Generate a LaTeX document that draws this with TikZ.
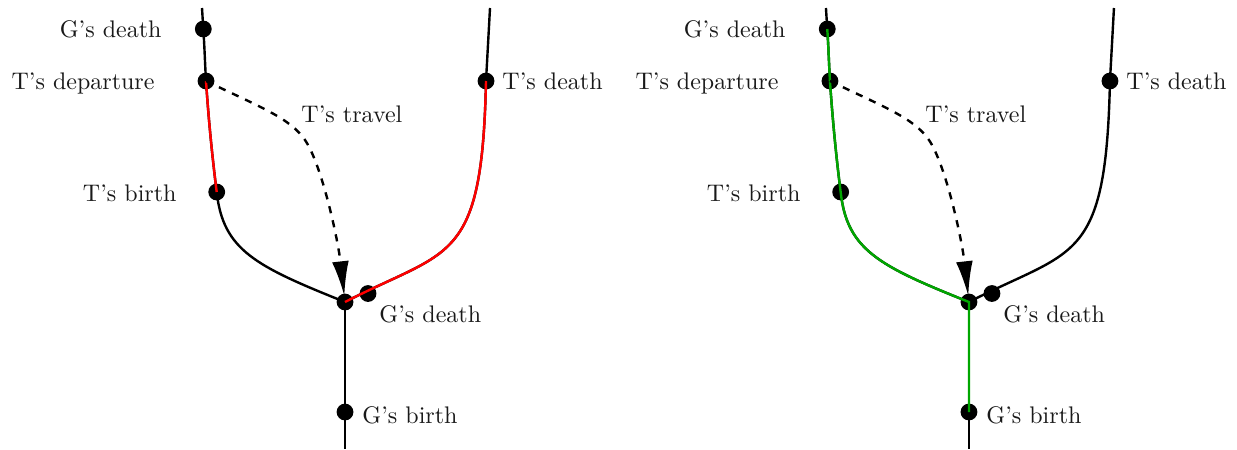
\documentclass[tikz,border=0pt]{standalone}
\usetikzlibrary{arrows.meta}
\definecolor{pathgreen}{RGB}{0,166,0}
\tikzset{
  worldline/.style={line width=1pt, black},
  dot/.style={circle, fill=black, inner sep=0pt, minimum size=7pt},
  lab/.style={inner sep=0pt, font=\normalsize, text=black!90},
  travel/.style={dashed, line width=1pt, shorten >=2.5pt, -{Latex[length=14.5pt,width=7pt]}},
  redpath/.style={red, line width=1pt},
  greenpath/.style={pathgreen, line width=1pt}
}
\newcommand\timelinepanel[1]{%
  \coordinate (topL#1) at (202,8);
  \coordinate (gdL#1) at (203.3,29);
  \coordinate (tdL#1) at (206,81);
  \coordinate (tbL#1) at (216.7,192);
  \coordinate (J#1) at (345,302);
  \coordinate (topR#1) at (490,8);
  \coordinate (tdR#1) at (486,81);
  \coordinate (gdR#1) at (368,293.5);
  \coordinate (gb#1) at (345,412);
  \coordinate (bot#1) at (345,449);
  % world lines
  \draw[worldline] (topL#1) -- (gdL#1) .. controls (204.5,46) and (205,64) .. (tdL#1)
     .. controls (208.5,118) and (212,155) .. (tbL#1)
     .. controls (223,250) and (255,266) .. (J#1);
  \draw[worldline] (topR#1) -- (tdR#1) .. controls (482,265) and (450,248) .. (J#1);
  \draw[worldline] (J#1) -- (gb#1) -- (bot#1);
  % dots
  \node[dot] (n-gdL#1) at (gdL#1) {};
  \node[dot] (n-tdL#1) at (tdL#1) {};
  \node[dot] (n-tbL#1) at (tbL#1) {};
  \node[dot] (n-J#1) at (J#1) {};
  \node[dot] (n-tdR#1) at (tdR#1) {};
  \node[dot] (n-gdR#1) at (gdR#1) {};
  \node[dot] (n-gb#1) at (gb#1) {};
  % labels
  \node[lab, anchor=base east] (l-gdL#1) at (162,37) {G's death};
  \node[lab, anchor=base east] (l-tdL#1) at (155,89) {T's departure};
  \node[lab, anchor=base east] (l-tbL#1) at (177,201) {T's birth};
  \node[lab, anchor=base west] (l-tr#1) at (301,122) {T's travel};
  \node[lab, anchor=base west] (l-tdR#1) at (502,89) {T's death};
  \node[lab, anchor=base west] (l-gdR#1) at (379,322) {G's death};
  \node[lab, anchor=base west] (l-gb#1) at (362,423) {G's birth};
}
\begin{document}
\begin{tikzpicture}[x=0.4167pt,y=-0.4167pt]
\useasboundingbox (0,0) rectangle (1237,449);
% left panel
\timelinepanel{a}
\draw[redpath] (tdLa) .. controls (208.5,118) and (212,155) .. (tbLa);
\draw[redpath] (Ja) .. controls (450,248) and (482,265) .. (tdRa);
\draw[travel] (tdLa) .. controls (260,107) and (290,118) .. (305,140)
   .. controls (322,165) and (338,240) .. (Ja);
% right panel
\begin{scope}[xshift=260pt]
\timelinepanel{b}
\draw[greenpath] (gdLb) .. controls (204.5,46) and (205,64) .. (tdLb)
     .. controls (208.5,118) and (212,155) .. (tbLb)
     .. controls (223,250) and (255,266) .. (Jb) -- (gbb);
\draw[travel] (tdLb) .. controls (260,107) and (290,118) .. (305,140)
   .. controls (322,165) and (338,240) .. (Jb);
\end{scope}
\end{tikzpicture}
\end{document}
